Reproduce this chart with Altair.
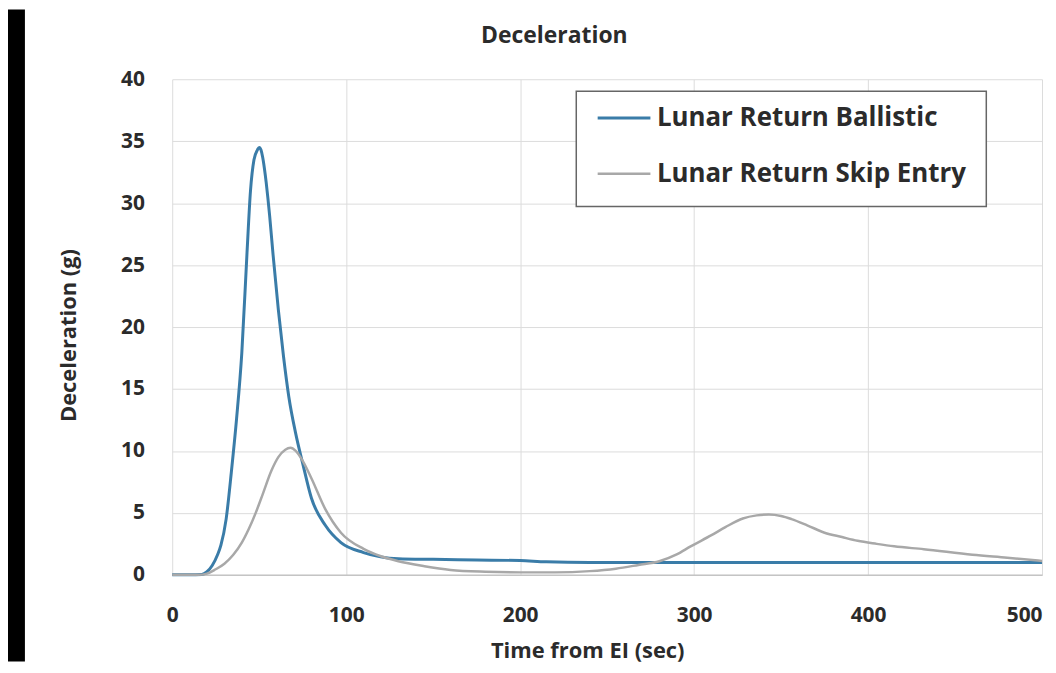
import altair as alt
import pandas as pd

series_names = ["Lunar Return Ballistic", "Lunar Return Skip Entry"]

ballistic_t = [0, 10, 17, 20, 23, 26, 28, 31, 34, 37, 40, 43, 45, 47, 49, 50, 51, 52, 53, 54, 55,
               56, 58, 61, 64, 67, 71, 75, 80, 88, 97, 110, 130, 150, 175, 200, 215, 240, 300, 400, 500]
ballistic_g = [0, 0, 0.02, 0.25, 0.75, 1.6, 2.4, 4.5, 8.3, 12.6, 17.9, 26.0, 31.0, 33.5, 34.3, 34.5,
               34.3, 33.7, 32.8, 31.7, 30.4, 29.0, 25.8, 21.4, 17.6, 14.4, 11.4, 9.0, 6.2, 4.0, 2.6,
               1.8, 1.3, 1.25, 1.2, 1.15, 1.05, 1.0, 1.0, 1.0, 1.0]

skip_t = [0, 15, 20, 25, 30, 35, 40, 44, 48, 52, 57, 61, 65, 68, 71, 75, 80, 88, 97, 110, 120,
          130, 145, 160, 180, 200, 220, 240, 255, 268, 280, 290, 298, 310, 318, 328, 336, 343,
          350, 356, 365, 375, 385, 394, 405, 415, 432, 460, 480, 500]
skip_g = [0, 0, 0.1, 0.45, 0.9, 1.6, 2.6, 3.7, 5.0, 6.5, 8.4, 9.5, 10.1, 10.25, 10.0, 9.2, 7.8,
          5.3, 3.4, 2.1, 1.5, 1.1, 0.7, 0.4, 0.25, 0.2, 0.2, 0.3, 0.5, 0.8, 1.1, 1.65, 2.3, 3.2,
          3.85, 4.55, 4.8, 4.87, 4.75, 4.5, 4.0, 3.4, 3.05, 2.75, 2.5, 2.3, 2.07, 1.62, 1.38, 1.12]

x_ticks = [0, 100, 200, 300, 400, 500]
y_ticks = [0, 5, 10, 15, 20, 25, 30, 35, 40]

df = pd.concat([
    pd.DataFrame({"t": ballistic_t, "g": ballistic_g, "series": series_names[0]}),
    pd.DataFrame({"t": skip_t, "g": skip_g, "series": series_names[1]}),
])

FONT = "Open Sans"
TEXT = "#2b2b2b"
BLUE = "#3a7ca8"
GRAY = "#a8a8a8"

lines = alt.Chart(df).mark_line(interpolate="monotone").encode(
    x=alt.X("t:Q", scale=alt.Scale(domain=[0, 500], nice=False),
            axis=alt.Axis(values=x_ticks, title="Time from EI (sec)", ticks=False,
                          labelPadding=30, titlePadding=15, titleX=417,
                          labelAlign={"condition": {"test": "datum.value === 500", "value": "right"},
                                      "value": "center"},
                          domainColor="#c4c4c4", domainWidth=1.5)),
    y=alt.Y("g:Q", scale=alt.Scale(domain=[0, 40], nice=False),
            axis=alt.Axis(values=y_ticks, title="Deceleration (g)", ticks=False, domain=False,
                          labelPadding=28, titlePadding=40, titleY=257)),
    color=alt.Color("series:N", scale=alt.Scale(domain=series_names, range=[BLUE, GRAY]),
                    legend=alt.Legend(title=None, orient="none", legendX=406, legendY=12,
                                      fillColor="white", strokeColor="#666666", padding=20,
                                      symbolType="stroke", symbolSize=2809, symbolStrokeWidth=3,
                                      clipHeight=14, rowPadding=30, labelOffset=5, labelLimit=0,
                                      labelFontSize=26, labelFont=FONT, labelFontWeight="bold",
                                      labelColor=TEXT)),
    strokeWidth=alt.StrokeWidth("series:N", scale=alt.Scale(domain=series_names, range=[3, 2.5]),
                                legend=None),
)

strip = alt.Chart(pd.DataFrame({"k": [0]})).mark_rect(color="black").encode(
    x=alt.value(-165), x2=alt.value(-148), y=alt.value(-70), y2=alt.value(585))

chart = alt.layer(strip, lines).properties(
    width=874, height=498,
    title=alt.TitleParams("Deceleration", fontSize=23, font=FONT, fontWeight="bold", color=TEXT,
                          anchor="middle", frame="group", dx=-53, offset=-39),
).configure(
    padding=0, background="white"
).configure_view(
    stroke=None
).configure_axis(
    labelFont=FONT, labelFontWeight="bold", labelFontSize=21, labelColor=TEXT,
    titleFont=FONT, titleFontWeight="bold", titleFontSize=22, titleColor=TEXT,
    gridColor="#dcdcdc", gridWidth=1,
).configure_legend(
    strokeWidth=1.5
)

chart.save("out.html", embed_options={"renderer": "svg", "actions": False})
